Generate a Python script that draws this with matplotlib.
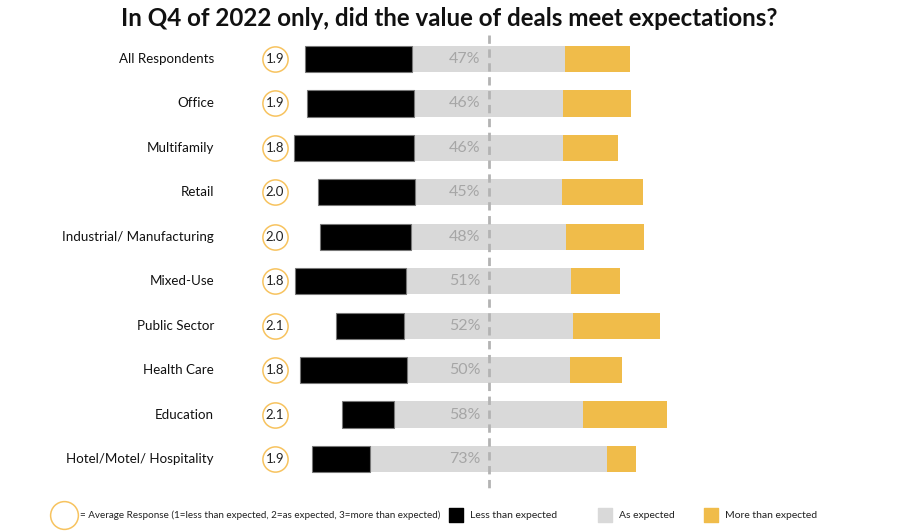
import numpy as np
import matplotlib
matplotlib.use("Agg")
import matplotlib.pyplot as plt

categories = ["All Respondents", "Office", "Multifamily", "Retail",
              "Industrial/ Manufacturing", "Mixed-Use", "Public Sector",
              "Health Care", "Education", "Hotel/Motel/ Hospitality"]
avg_response = [1.9, 1.9, 1.8, 2.0, 2.0, 1.8, 2.1, 1.8, 2.1, 1.9]
less_than = [33, 33, 37, 30, 28, 34, 21, 33, 16, 18]
as_expected = [47, 46, 46, 45, 48, 51, 52, 50, 58, 73]
more_than = [20, 21, 17, 25, 24, 15, 27, 16, 26, 9]

c_less = "#000000"
c_as = "#D9D9D9"
c_more = "#F0BC4A"
c_ring = "#F7C35F"

plt.rcParams['font.family'] = ['Lato', 'DejaVu Sans']

fig = plt.figure(figsize=(8.99, 5.31), dpi=100)
ax = fig.add_axes([0, 0, 1, 1])

# px -> data: 3.245 px per percent, centre at px 488.5
scale = 3.245
cx = 488.5
ax.set_xlim(-cx / scale, (899 - cx) / scale)
row_px = 44.44
ax.set_ylim((531 - 59) / row_px, -59 / row_px)
ax.axis("off")

y = np.arange(len(categories))
less = np.array(less_than)
mid = np.array(as_expected)
more = np.array(more_than)

left_as = -mid / 2
ax.barh(y, mid, left=left_as, height=0.59, color=c_as, zorder=2)
ax.barh(y, less, left=left_as - less, height=0.59, color=c_less,
        edgecolor="#777777", linewidth=0.8, zorder=2)
ax.barh(y, more, left=left_as + mid, height=0.59, color=c_more, zorder=2)

ax.plot([0, 0], [-0.55, 9.7], color="#B3B3B3", lw=2, ls=(0, (3, 2)), zorder=3)

for i in range(len(categories)):
    ax.text(-2.5, y[i], f"{as_expected[i]}%", ha="right", va="center",
            fontsize=11.5, color="#A6A6A6", zorder=4)
    ax.text((214 - cx) / scale, y[i], categories[i], ha="right", va="center",
            fontsize=9.6, color="#111111")
    ax.text((275 - cx) / scale, y[i], f"{avg_response[i]:.1f}", ha="center",
            va="center", fontsize=9.5, color="#222222", zorder=5)

ax.scatter(np.full(len(y), (275 - cx) / scale), y, s=330, facecolor="white",
           edgecolor=c_ring, linewidth=1.1, zorder=4)

fig.text(0.5, 1 - 18 / 531, "In Q4 of 2022 only, did the value of deals meet expectations?",
         ha="center", va="center", fontsize=17.4, fontweight="bold", color="#111111")

# legend row
ly = (515 - 59) / row_px
ax.scatter([(64 - cx) / scale], [ly], s=400, facecolor="white",
           edgecolor=c_ring, linewidth=1.1, clip_on=False)
ax.text((80 - cx) / scale, ly,
        "= Average Response (1=less than expected, 2=as expected, 3=more than expected)",
        ha="left", va="center", fontsize=7.1, color="#222222")
for px, col, lab in [(456, c_less, "Less than expected"),
                     (605, c_as, "As expected"),
                     (711, c_more, "More than expected")]:
    ax.scatter([(px - cx) / scale], [ly], s=90, marker="s", color=col, clip_on=False)
    ax.text((px + 14 - cx) / scale, ly, lab, ha="left", va="center",
            fontsize=7.5, color="#222222")

fig.savefig("out.png", dpi=100)
